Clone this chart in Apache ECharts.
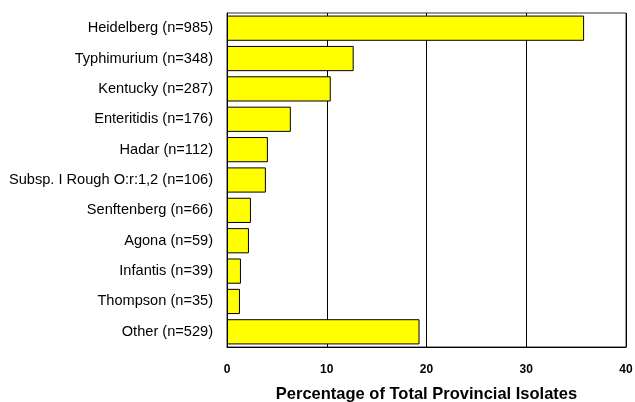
<!DOCTYPE html>
<html>
<head>
<meta charset="utf-8">
<script src="https://cdn.jsdelivr.net/npm/echarts@6/dist/echarts.min.js"></script>
<style>
html,body{margin:0;padding:0;background:#fff;}
#c{width:635px;height:402px;}
</style>
</head>
<body>
<div id="c"></div>
<script>
const categories = [
  "Heidelberg (n=985)",
  "Typhimurium (n=348)",
  "Kentucky (n=287)",
  "Enteritidis (n=176)",
  "Hadar (n=112)",
  "Subsp. I Rough O:r:1,2 (n=106)",
  "Senftenberg (n=66)",
  "Agona (n=59)",
  "Infantis (n=39)",
  "Thompson (n=35)",
  "Other (n=529)"
];
const percentages = [35.8, 12.7, 10.4, 6.4, 4.1, 3.9, 2.4, 2.2, 1.4, 1.3, 19.3];
const xTicks = [0, 10, 20, 30, 40];

const chart = echarts.init(document.getElementById('c'), null, {renderer: 'canvas'});
chart.setOption({
  animation: false,
  backgroundColor: '#fff',
  grid: {
    left: 227, right: 9, top: 13, bottom: 55,
    containLabel: false,
    outerBoundsMode: 'none',
    show: true, borderColor: '#333', borderWidth: 1, backgroundColor: 'transparent'
  },
  xAxis: {
    type: 'value',
    min: xTicks[0], max: xTicks[xTicks.length - 1], interval: 10,
    name: 'Percentage of Total Provincial Isolates',
    nameLocation: 'middle',
    nameGap: 39,
    nameTextStyle: {fontFamily: 'Liberation Sans, Arial', fontWeight: 'bold', fontSize: 16.5, color: '#000'},
    axisLine: {show: true, lineStyle: {color: '#000', width: 1}},
    axisTick: {show: false},
    axisLabel: {fontFamily: 'Liberation Sans, Arial', fontWeight: 'bold', fontSize: 12, color: '#000', margin: 17},
    splitLine: {show: true, lineStyle: {color: '#000', width: 1}}
  },
  yAxis: {
    type: 'category',
    data: categories,
    inverse: true,
    axisLine: {show: true, lineStyle: {color: '#000', width: 1}},
    axisTick: {show: false},
    axisLabel: {fontFamily: 'Liberation Sans, Arial', fontSize: 14.6, color: '#000', margin: 14}
  },
  series: [{
    type: 'bar',
    data: percentages,
    barCategoryGap: '17%',
    itemStyle: {color: '#ffff00', borderColor: '#000', borderWidth: 1}
  }]
});
</script>
</body>
</html>
